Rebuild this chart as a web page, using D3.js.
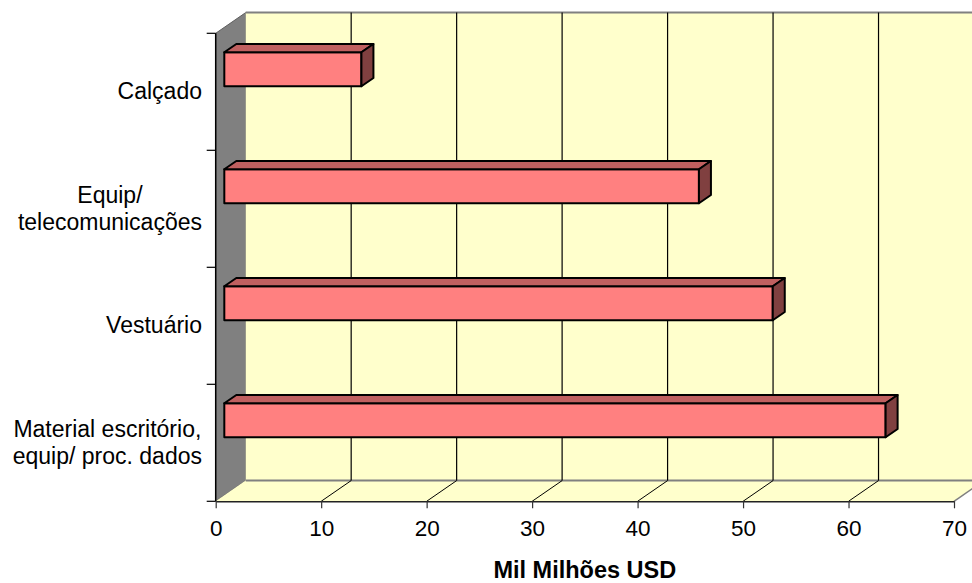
<!DOCTYPE html>
<html>
<head>
<meta charset="utf-8">
<script src="https://cdn.jsdelivr.net/npm/d3@7"></script>
<style>
  html, body { margin: 0; padding: 0; background: #fff; }
  svg { display: block; font-family: "Liberation Sans", Arial, sans-serif; }
</style>
</head>
<body>
<div id="chart"></div>
<script>
// dados
const categories = ["Calçado", "Equip/ telecomunicações", "Vestuário", "Material escritório, equip/ proc. dados"];
const labelLines = [["Calçado"], ["Equip/", "telecomunicações"], ["Vestuário"], ["Material escritório,", "equip/ proc. dados"]];
const values = [13, 45, 52, 62.7];
const tickValues = [0, 10, 20, 30, 40, 50, 60, 70];
const axisTitle = "Mil Milhões USD";

const width = 972, height = 583;

// projecção oblíqua (profundidade do gráfico 3D)
const depthX = 30, depthY = -20.7;
const barFront = 0.287, barBack = 0.687;   // fracções da profundidade
const barOffset = 19, barHeight = 34;

const x = d3.scaleLinear().domain([0, 70]).range([215.7, 954]);
const y = d3.scaleBand().domain(categories).range([33.3, 501.3]);

const svg = d3.select('#chart')
    .append('svg')
    .attr('width', width)
    .attr('height', height);

const floorY = y.range()[1];
const topY = y.range()[0];
const x0 = x(0), x1 = x(70);

// parede lateral (cinza)
svg.append('polygon')
    .attr('points', [[x0, topY], [x0 + depthX, topY + depthY], [x0 + depthX, floorY + depthY], [x0, floorY]].join(' '))
    .style('fill', '#808080')
    .style('stroke', '#606060')
    .style('stroke-width', 1);

// parede de fundo
svg.append('rect')
    .attr('x', x0 + depthX)
    .attr('y', topY + depthY)
    .attr('width', width - (x0 + depthX) + 5)
    .attr('height', floorY - topY)
    .style('fill', '#FFFFCC');

svg.append('line')
    .attr('x1', x0 + depthX).attr('x2', width)
    .attr('y1', topY + depthY).attr('y2', topY + depthY)
    .style('stroke', '#808080').style('stroke-width', 2);

// chão
svg.append('polygon')
    .attr('points', [[x0, floorY], [x0 + depthX, floorY + depthY], [x1 + depthX, floorY + depthY], [x1, floorY]].join(' '))
    .style('fill', '#FFFFCC');

svg.append('line')
    .attr('x1', x0 + depthX).attr('x2', width)
    .attr('y1', floorY + depthY).attr('y2', floorY + depthY)
    .style('stroke', '#808080').style('stroke-width', 2);

// linhas de grelha
const inner = tickValues.filter(v => v > 0 && v < 70);
svg.append('g')
    .selectAll('line')
    .data(inner)
    .join('line')
    .attr('x1', d => x(d) + depthX).attr('x2', d => x(d) + depthX)
    .attr('y1', topY + depthY).attr('y2', floorY + depthY)
    .style('stroke', '#000').style('stroke-width', 1.2);

svg.append('g')
    .selectAll('line')
    .data(inner)
    .join('line')
    .attr('x1', d => x(d)).attr('x2', d => x(d) + depthX)
    .attr('y1', floorY).attr('y2', floorY + depthY)
    .style('stroke', '#000').style('stroke-width', 1);

svg.append('line')
    .attr('x1', x1).attr('x2', x1 + depthX)
    .attr('y1', floorY).attr('y2', floorY + depthY)
    .style('stroke', '#808080').style('stroke-width', 1.5);

// barras 3D
const bdx = depthX * (barBack - barFront), bdy = depthY * (barBack - barFront);
const bars = svg.append('g')
    .selectAll('g')
    .data(categories.map((c, i) => ({ cat: c, value: values[i] })))
    .join('g')
    .attr('transform', `translate(${depthX * barFront},${depthY * barFront})`);

bars.append('rect')
    .attr('x', x(0))
    .attr('y', d => y(d.cat) + barOffset - depthY * barFront)
    .attr('width', d => x(d.value) - x(0))
    .attr('height', barHeight)
    .style('fill', '#FF8080');

bars.append('polygon')
    .attr('points', d => {
        const yt = y(d.cat) + barOffset - depthY * barFront;
        const xa = x(0), xb = x(d.value);
        return [[xa, yt], [xa + bdx, yt + bdy], [xb + bdx, yt + bdy], [xb, yt]].join(' ');
    })
    .style('fill', '#C06060');

bars.append('polygon')
    .attr('points', d => {
        const yt = y(d.cat) + barOffset - depthY * barFront;
        const xb = x(d.value);
        return [[xb, yt], [xb + bdx, yt + bdy], [xb + bdx, yt + barHeight + bdy], [xb, yt + barHeight]].join(' ');
    })
    .style('fill', '#804040');

bars.selectAll('rect, polygon')
    .style('stroke', '#000')
    .style('stroke-width', 2)
    .style('stroke-linejoin', 'round');

// eixo vertical
svg.append('line')
    .attr('x1', x0).attr('x2', x0)
    .attr('y1', topY).attr('y2', floorY)
    .style('stroke', '#000').style('stroke-width', 1.5);

svg.append('g')
    .selectAll('line')
    .data(categories.map(c => y(c)).concat([floorY]))
    .join('line')
    .attr('x1', x0 - 9).attr('x2', x0)
    .attr('y1', d => d).attr('y2', d => d)
    .style('stroke', '#000').style('stroke-width', 1.2);

// eixo horizontal
const xAxis = svg.append('g')
    .attr('transform', `translate(0,${floorY})`)
    .call(d3.axisBottom(x).tickValues(tickValues).tickSize(7).tickSizeOuter(0).tickPadding(12));

xAxis.select('.domain').style('stroke', '#222').style('stroke-width', 1.5);
xAxis.selectAll('.tick line').style('stroke', '#333').style('stroke-width', 1.2);
xAxis.selectAll('.tick text')
    .style('font-family', '"Liberation Sans", Arial, sans-serif')
    .style('font-size', '22.5px')
    .style('fill', '#000');

// rótulos das categorias
const labelRight = 202;
const lineGap = 27;
categories.forEach((c, i) => {
    const lines = labelLines[i];
    const cy = y(c) + y.bandwidth() / 2;
    const t = svg.append('text')
        .style('font-size', '23px')
        .style('fill', '#000')
        .attr('text-anchor', 'middle');
    const spans = lines.map((ln, j) => t.append('tspan')
        .attr('y', cy + 7.5 + (j - (lines.length - 1) / 2) * lineGap)
        .text(ln));
    const w = d3.max(spans, s => s.node().getComputedTextLength());
    spans.forEach(s => s.attr('x', labelRight - w / 2));
});

// título do eixo
svg.append('text')
    .attr('x', (x0 + x1) / 2)
    .attr('y', 578)
    .attr('text-anchor', 'middle')
    .style('font-size', '23.5px')
    .style('font-weight', 'bold')
    .style('fill', '#000')
    .text(axisTitle);
</script>
</body>
</html>
